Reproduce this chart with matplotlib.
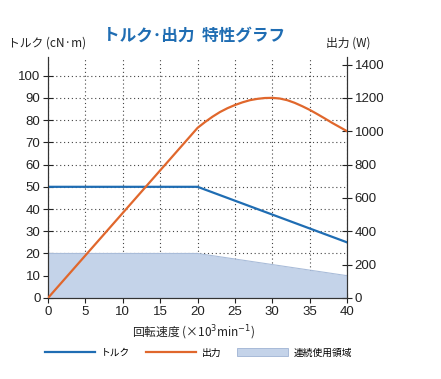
import matplotlib.pyplot as plt
from matplotlib.patches import Patch
from matplotlib.lines import Line2D

plt.rcParams['font.family'] = ['Liberation Sans', 'Noto Sans CJK JP', 'DejaVu Sans']
jp = ['Noto Sans CJK JP', 'DejaVu Sans']

# 回転速度 (x10^3 min^-1)
speed = [0, 20, 40]
torque = [50, 50, 25]
cont_region = [20, 20, 10]

speed_p = [0, 20, 21, 22, 23, 24, 25, 26, 27, 28, 29, 30,
           31, 32, 33, 34, 35, 36, 37, 38, 39, 40]
power = [0, 1020, 1055, 1087, 1115, 1138, 1157, 1173, 1186, 1194, 1199, 1200,
         1196, 1186, 1170, 1150, 1128, 1103, 1077, 1050, 1025, 1000]

x_ticks = [0, 5, 10, 15, 20, 25, 30, 35, 40]
t_ticks = list(range(0, 101, 10))
p_ticks = list(range(0, 1401, 200))

c_torque = '#1f6db3'
c_power = '#e0672c'
c_fill = '#c4d3e9'

fig = plt.figure(figsize=(4.41, 3.79), dpi=100)
ax = fig.add_axes([0.109, 0.214, 0.678, 0.636])
ax2 = ax.twinx()

ax.fill_between(speed, cont_region, 0, color=c_fill, lw=0, zorder=1)
ax.plot(speed, cont_region, color='#a9bcd9', lw=0.8, zorder=1.5)
ax.plot(speed, torque, color=c_torque, lw=1.6, zorder=3)
ax2.plot(speed_p, power, color=c_power, lw=1.6, zorder=3)

ax.set_xlim(0, 40)
ax.set_ylim(0, 108.5)
ax2.set_ylim(0, 1446)
ax.set_xticks(x_ticks)
ax.set_yticks(t_ticks)
ax2.set_yticks(p_ticks)

ax.grid(True, ls=(0, (1, 2.5)), color='#444444', lw=0.8)
ax.set_axisbelow(True)
for a in (ax, ax2):
    a.spines['top'].set_visible(False)
    a.tick_params(direction='inout', length=7, width=0.8, labelsize=9.5, pad=2,
                  colors='#222222')
    for s in a.spines.values():
        s.set_linewidth(0.8)
        s.set_color('#333333')

fig.text(0.018, 0.886, 'トルク (cN·m)', fontsize=8.5, color='#222222', va='center',
         family=jp)
fig.text(0.74, 0.886, '出力 (W)', fontsize=8.5, color='#222222', va='center',
         family=jp)
fig.text(0.44, 0.905, 'トルク･出力  特性グラフ', fontsize=12, fontweight='bold',
         color='#1f6db3', ha='center', va='center', family=jp)
fig.text(0.44, 0.123, '回転速度 (×10$^3$min$^{-1}$)', fontsize=8.5, color='#222222',
         ha='center', va='center', family=jp)

handles = [Line2D([], [], color=c_torque, lw=1.6),
           Line2D([], [], color=c_power, lw=1.6),
           Patch(facecolor=c_fill, edgecolor='#9fb3d3', lw=0.6)]
leg = fig.legend(handles, ['トルク', '出力', '連続使用領域'], loc='center',
                 bbox_to_anchor=(0.45, 0.07), ncol=3, frameon=False, fontsize=7,
                 handlelength=5.2, handleheight=0.9, columnspacing=1.6,
                 handletextpad=0.6, prop={'family': jp, 'size': 7})

fig.savefig('out.png', dpi=100)
